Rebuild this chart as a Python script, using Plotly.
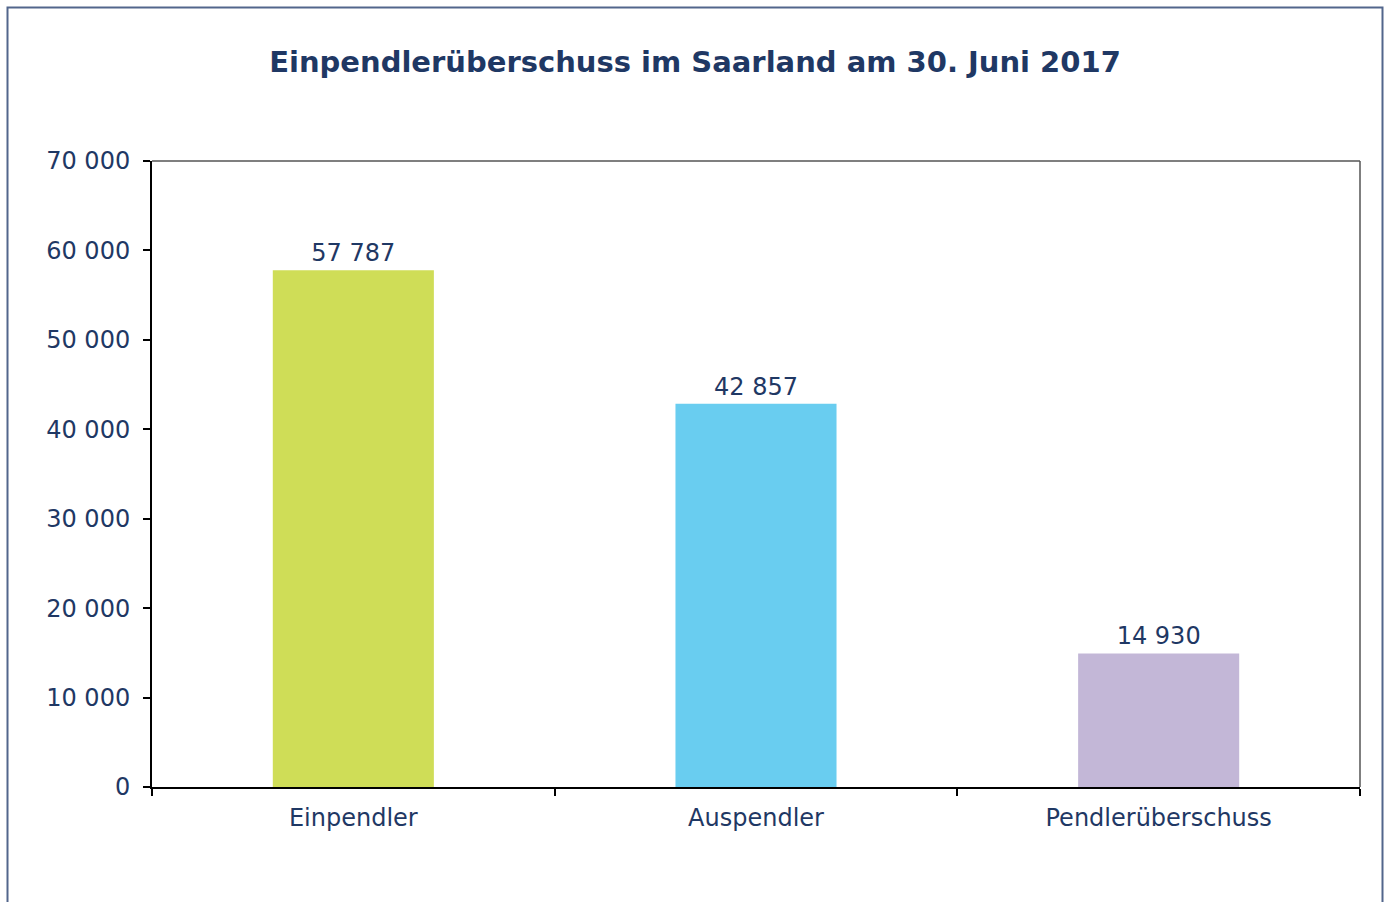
import plotly.graph_objects as go

categories = ["Einpendler", "Auspendler", "Pendlerüberschuss"]
values = [57787, 42857, 14930]
colors = ["#cfdd57", "#69cdf0", "#c3b7d7"]
tick_vals = [0, 10000, 20000, 30000, 40000, 50000, 60000, 70000]

navy = "#1f3864"
W, H = 1389, 902
L, R, T, B = 152, 1360, 161, 787
pw, ph = R - L, B - T

def fmt(v):
    return f"{v:,}".replace(",", " ")

fig = go.Figure()
fig.add_trace(go.Bar(
    x=categories, y=values, marker_color=colors, marker_line_width=0,
    width=0.4, text=[fmt(v) for v in values], textposition="outside",
    textfont=dict(color=navy, size=24), cliponaxis=False, showlegend=False,
))

def px_x(x):
    return (x - L) / pw

def px_y(y):
    return (B - y) / ph

shapes = [
    # outer frame
    dict(type="rect", xref="paper", yref="paper",
         x0=px_x(7.5), x1=px_x(1382.5), y0=px_y(930), y1=px_y(7.5),
         line=dict(color="#52668c", width=2), fillcolor="rgba(0,0,0,0)", layer="below"),
    # top and right plot border
    dict(type="line", xref="paper", yref="paper", x0=0, x1=1, y0=1, y1=1,
         line=dict(color="#555555", width=1.5)),
    dict(type="line", xref="paper", yref="paper", x0=1, x1=1, y0=0, y1=1,
         line=dict(color="#555555", width=1.5)),
]

fig.update_layout(
    width=W, height=H,
    margin=dict(l=L, r=W - R, t=T, b=H - B),
    paper_bgcolor="white", plot_bgcolor="white",
    font=dict(family="Verdana, DejaVu Sans, sans-serif", color=navy, size=24),
    separators=", ",
    title=dict(text="<b>Einpendlerüberschuss im Saarland am 30. Juni 2017</b>",
               x=695 / W, xanchor="center", y=1 - 62 / H, yanchor="middle",
               font=dict(size=29, color=navy)),
    shapes=shapes,
    bargap=0.6,
)
fig.update_xaxes(
    showline=True, linecolor="black", linewidth=2,
    ticks="outside", tickson="boundaries", ticklen=7, tickwidth=2, tickcolor="black",
    ticklabelstandoff=8,
    showgrid=False, tickfont=dict(size=24, color=navy),
)
fig.update_yaxes(
    range=[0, 70000], tickvals=tick_vals, tickformat=",d",
    showline=True, linecolor="black", linewidth=2,
    ticks="outside", ticklen=7, tickwidth=2, tickcolor="black",
    ticklabelstandoff=8,
    showgrid=False, zeroline=False, tickfont=dict(size=24, color=navy),
)

fig.write_html(
    "out.html",
    config={"displayModeBar": False},
    post_script="document.body.style.margin='0';document.body.style.overflow='hidden';",
)
